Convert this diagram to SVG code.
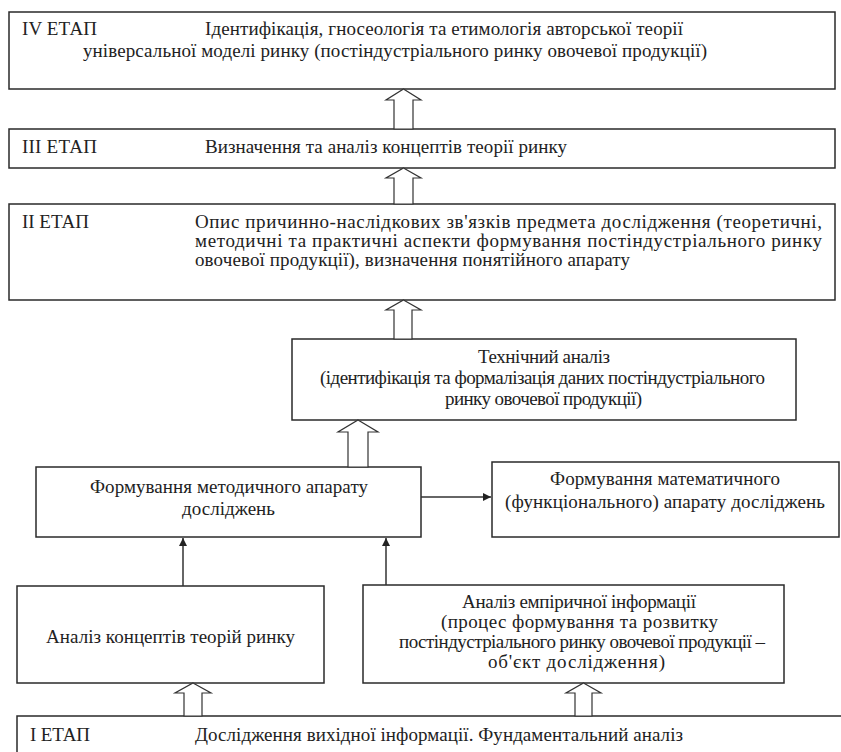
<svg xmlns="http://www.w3.org/2000/svg" width="841" height="752" viewBox="0 0 841 752">
<defs>
<style>
.box{fill:#fff;stroke:#2a2a2a;stroke-width:1.5}
text{font-family:"Liberation Serif",Tinos,"Times New Roman",Times,serif;font-size:19px;fill:#222}
.ha{fill:#fff;stroke:#333;stroke-width:1.2;stroke-linejoin:miter}
.ln{stroke:#333;stroke-width:1.5;fill:none}
</style>
<marker id="ah" viewBox="0 0 10 10" refX="10" refY="5" markerWidth="8" markerHeight="8" markerUnits="userSpaceOnUse" orient="auto">
<path d="M0,0 L10,5 L0,10 z" fill="#222"/>
</marker>
</defs>
<rect width="841" height="752" fill="#fff"/>

<g id="stage4">
<rect class="box" x="9" y="12" width="826" height="77"/>
<text x="22" y="35" textLength="75" lengthAdjust="spacing">IV ЕТАП</text>
<text x="205" y="35" textLength="478" lengthAdjust="spacing">Ідентифікація, гносеологія та етимологія авторської теорії</text>
<text x="83" y="57" textLength="624" lengthAdjust="spacing">універсальної моделі ринку (постіндустріального ринку овочевої продукції)</text>
</g>

<g id="stage3">
<rect class="box" x="9" y="129" width="826" height="39"/>
<text x="22" y="153" textLength="75" lengthAdjust="spacing">ІІІ ЕТАП</text>
<text x="205" y="153" textLength="362" lengthAdjust="spacing">Визначення та аналіз концептів теорії ринку</text>
</g>

<g id="stage2">
<rect class="box" x="9" y="204" width="826" height="96"/>
<text x="22" y="228" textLength="67" lengthAdjust="spacing">ІІ ЕТАП</text>
<text x="195" y="228" textLength="627" lengthAdjust="spacing">Опис причинно-наслідкових зв'язків предмета дослідження (теоретичні,</text>
<text x="195" y="247" textLength="627" lengthAdjust="spacing">методичні та практичні аспекти формування постіндустріального ринку</text>
<text x="195" y="266" textLength="435" lengthAdjust="spacing">овочевої продукції), визначення понятійного апарату</text>
</g>

<g id="tech">
<rect class="box" x="292" y="339" width="504" height="81"/>
<text x="478" y="363" textLength="132" lengthAdjust="spacing">Технічний аналіз</text>
<text x="320" y="384" textLength="445" lengthAdjust="spacing">(ідентифікація та формалізація даних постіндустріального</text>
<text x="445" y="405" textLength="197" lengthAdjust="spacing">ринку овочевої продукції)</text>
</g>

<g id="method">
<rect class="box" x="36" y="467" width="385" height="70"/>
<text x="90" y="493" textLength="278" lengthAdjust="spacing">Формування методичного апарату</text>
<text x="182" y="515" textLength="93" lengthAdjust="spacing">досліджень</text>
</g>

<g id="math">
<rect class="box" x="492" y="462" width="347" height="75"/>
<text x="550" y="485" textLength="230" lengthAdjust="spacing">Формування математичного</text>
<text x="505" y="508" textLength="320" lengthAdjust="spacing">(функціонального) апарату досліджень</text>
</g>

<g id="concepts">
<rect class="box" x="17" y="586" width="307" height="97"/>
<text x="46" y="643" textLength="249" lengthAdjust="spacing">Аналіз концептів теорій ринку</text>
</g>

<g id="empirical">
<rect class="box" x="363" y="585" width="421" height="98"/>
<text x="462" y="608" textLength="234" lengthAdjust="spacing">Аналіз емпіричної інформації</text>
<text x="441" y="628" textLength="277" lengthAdjust="spacing">(процес формування та розвитку</text>
<text x="399" y="648" textLength="366" lengthAdjust="spacing">постіндустріального ринку овочевої продукції –</text>
<text x="488" y="668" textLength="177" lengthAdjust="spacing">об'єкт дослідження)</text>
</g>

<g id="stage1">
<rect class="box" x="17" y="716" width="830" height="50"/>
<text x="30" y="741" textLength="60" lengthAdjust="spacing">І ЕТАП</text>
<text x="195" y="741" textLength="488" lengthAdjust="spacing">Дослідження вихідної інформації. Фундаментальний аналіз</text>
</g>

<g id="connectors">
<polygon class="ha" points="403.5,89 421,100 413,100 413,129 394,129 394,100 386,100"/>
<polygon class="ha" points="403.5,168 421,178 413,178 413,204 394,204 394,178 386,178"/>
<polygon class="ha" points="403.5,300 421,310 412,310 412,339 394,339 394,310 386,310"/>
<polygon class="ha" points="358,420 378,432 368,432 368,467 348,467 348,432 338,432"/>
<polygon class="ha" points="193,683 211,693 202,693 202,716 184,716 184,693 175,693"/>
<polygon class="ha" points="583.5,683 601,693 592,693 592,716 575,716 575,693 566,693"/>
<line class="ln" x1="183" y1="586" x2="183" y2="538" marker-end="url(#ah)"/>
<line class="ln" x1="386" y1="585" x2="386" y2="538" marker-end="url(#ah)"/>
<line class="ln" x1="421" y1="497" x2="491" y2="497" marker-end="url(#ah)"/>
</g>
</svg>
